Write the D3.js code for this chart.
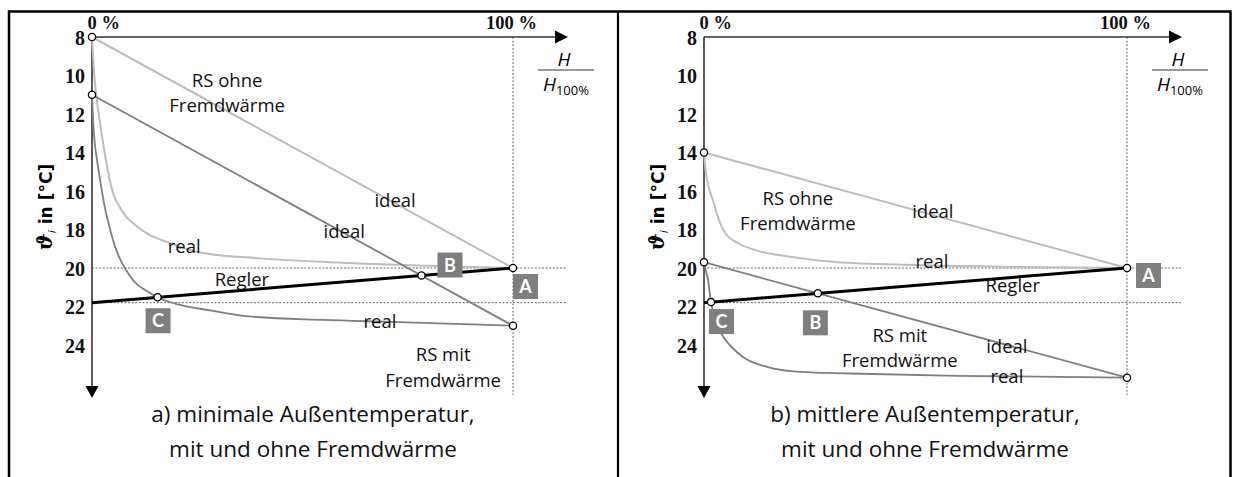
<!DOCTYPE html>
<html><head><meta charset="utf-8">
<script src="https://cdn.jsdelivr.net/npm/d3@7"></script>
<style>body{margin:0;background:#fff}</style>
</head><body>
<svg id="c" width="1234" height="477"></svg>
<script>
// ---------- data ----------
const yTickValues = [8, 10, 12, 14, 16, 18, 20, 22, 24];
const xTickValues = [0, 1];
const xTickLabels = ["0 %", "100 %"];

// panel a) minimale Außentemperatur
const aOhneIdeal = [[0, 8], [1, 20]];
const aOhneReal = [[0, 8], [0.004, 9.6], [0.01, 11.0], [0.019, 12.45], [0.03, 14.0], [0.04, 15.2], [0.05, 16.1],
  [0.065, 16.8], [0.08, 17.3], [0.097, 17.66], [0.13, 18.2], [0.178, 18.65], [0.257, 19.2], [0.4, 19.5],
  [0.565, 19.7], [0.8, 19.88], [1, 20]];
const aMitIdeal = [[0, 11], [1, 23]];
const aMitReal = [[0, 11], [0.003, 12.5], [0.007, 13.6], [0.012, 14.4], [0.019, 15.4], [0.03, 16.8], [0.043, 18.0],
  [0.055, 18.9], [0.067, 19.55], [0.078, 20.0], [0.1, 20.7], [0.13, 21.2], [0.159, 21.56], [0.209, 21.92],
  [0.28, 22.2], [0.368, 22.5], [0.55, 22.7], [0.708, 22.8], [1, 23]];
const aRegler = [[0, 21.8], [1, 20]];

// panel b) mittlere Außentemperatur
const bOhneIdeal = [[0, 14], [1, 20]];
const bOhneReal = [[0, 14], [0.004, 15.0], [0.01, 15.7], [0.021, 16.47], [0.035, 17.5], [0.05, 18.18], [0.08, 18.7],
  [0.12, 19.06], [0.2, 19.4], [0.31, 19.69], [0.5, 19.85], [0.75, 19.95], [1, 20]];
const bMitIdeal = [[0, 19.7], [1, 25.7]];
const bMitReal = [[0, 19.7], [0.004, 20.1], [0.0095, 20.62], [0.0165, 21.77], [0.025, 22.5], [0.043, 23.48],
  [0.065, 24.1], [0.092, 24.62], [0.149, 25.14], [0.227, 25.4], [0.345, 25.48], [0.6, 25.6], [1, 25.7]];
const bRegler = [[0, 21.8], [1, 20]];

const captionsA = ["a) minimale Außentemperatur,", "mit und ohne Fremdwärme"];
const captionsB = ["b) mittlere Außentemperatur,", "mit und ohne Fremdwärme"];

// ---------- drawing ----------
const svg = d3.select("#c");
const LIGHT = "#bdbdbd", MID = "#7f7f7f";
const TXT = "'Open Sans', 'Noto Sans', sans-serif";

// frame
svg.append("rect").attr("x", 9).attr("y", 11.5).attr("width", 1221.5).attr("height", 480)
  .attr("fill", "none").attr("stroke", "#000").attr("stroke-width", 2.5);
svg.append("line").attr("x1", 618).attr("x2", 618).attr("y1", 12).attr("y2", 477)
  .attr("stroke", "#000").attr("stroke-width", 2.2);

function intersect(curve, line) {
  const f = p => p[1] - (line[0][1] + (line[1][1] - line[0][1]) * (p[0] - line[0][0]) / (line[1][0] - line[0][0]));
  for (let i = 0; i < curve.length - 1; i++) {
    const d0 = f(curve[i]), d1 = f(curve[i + 1]);
    if (d0 <= 0 && d1 > 0 || d0 >= 0 && d1 < 0) {
      const t = d0 / (d0 - d1);
      const xx = curve[i][0] + t * (curve[i + 1][0] - curve[i][0]);
      const yy = curve[i][1] + t * (curve[i + 1][1] - curve[i][1]);
      return [xx, yy];
    }
  }
  return null;
}

function drawPanel(o) {
  const g = svg.append("g");
  const x = d3.scaleLinear().domain([0, 1]).range(o.xr);
  const y = d3.scaleLinear().domain([8, 24]).range([37, 345]);
  const x0 = x(0), x1 = x(1), y0 = y(8);

  // dotted helper lines
  [20, o.regler[0][1]].forEach(v => {
    g.append("line").attr("x1", x0).attr("x2", x1 + 54).attr("y1", y(v)).attr("y2", y(v))
      .attr("stroke", "#555").attr("stroke-width", 0.9).attr("stroke-dasharray", "2,1.6");
  });
  g.append("line").attr("x1", x1).attr("x2", x1).attr("y1", y0).attr("y2", 395)
    .attr("stroke", "#555").attr("stroke-width", 0.9).attr("stroke-dasharray", "2,1.6");

  // axes
  g.append("line").attr("x1", x0).attr("x2", x1 + 44).attr("y1", y0).attr("y2", y0)
    .attr("stroke", "#333").attr("stroke-width", 1.6);
  g.append("path").attr("d", `M${x1 + 42},${y0 - 6.5}L${x1 + 55},${y0}L${x1 + 42},${y0 + 6.5}Z`).attr("fill", "#000");
  g.append("line").attr("x1", x0).attr("x2", x0).attr("y1", y0).attr("y2", 388)
    .attr("stroke", "#333").attr("stroke-width", 1.6);
  g.append("path").attr("d", `M${x0 - 6.5},${386}L${x0},${398}L${x0 + 6.5},${386}Z`).attr("fill", "#000");

  const ya = d3.axisLeft(y).tickValues(yTickValues).tickSize(0).tickPadding(7).tickFormat(d3.format("d"));
  const yg = g.append("g").attr("transform", `translate(${x0},0)`).call(ya);
  yg.select(".domain").remove();
  yg.selectAll("text").attr("font-family", "'Liberation Serif', serif").attr("font-weight", "bold")
    .attr("font-size", 20).attr("fill", "#111").attr("dy", "0.36em");

  const xa = d3.axisTop(x).tickValues(xTickValues).tickSize(0).tickPadding(8)
    .tickFormat((d, i) => xTickLabels[i]);
  const xg = g.append("g").attr("transform", `translate(0,${y0})`).call(xa);
  xg.select(".domain").remove();
  xg.selectAll("text").attr("font-family", "'Liberation Serif', serif").attr("font-weight", "bold")
    .attr("font-size", 18.5).attr("fill", "#111")
    .attr("text-anchor", (d, i) => i === 0 ? "start" : "middle")
    .attr("dx", (d, i) => i === 0 ? -5 : -2);

  // fraction H / H100%
  const fx = x1 + 52;
  g.append("text").attr("x", fx - 1).attr("y", 66).attr("text-anchor", "middle")
    .attr("font-family", TXT).attr("font-style", "italic").attr("font-size", 19).text("H");
  g.append("line").attr("x1", fx - 27).attr("x2", fx + 29).attr("y1", 70).attr("y2", 70)
    .attr("stroke", "#333").attr("stroke-width", 1);
  const den = g.append("text").attr("x", fx + 1).attr("y", 91).attr("text-anchor", "middle")
    .attr("font-family", TXT).attr("font-size", 19);
  den.append("tspan").attr("font-style", "italic").text("H");
  den.append("tspan").attr("font-size", 13).attr("dy", 4).text("100%");

  // y label
  const yl = g.append("text").attr("transform", `translate(${x0 - 40},207) rotate(-90)`)
    .attr("text-anchor", "middle").attr("font-family", "'DejaVu Sans', sans-serif").attr("font-weight", "bold")
    .attr("font-size", 17);
  yl.append("tspan").attr("font-family", "'DejaVu Serif', serif").attr("font-style", "italic").attr("font-size", 20).text("ϑ");
  yl.append("tspan").attr("font-style", "italic").attr("font-size", 11).attr("font-weight", "normal").attr("dy", 4).text("i");
  yl.append("tspan").attr("dy", -4).text(" in [°C]");

  // curves
  const lineGen = d3.line().x(d => x(d[0])).y(d => y(d[1]));
  const smooth = d3.line().x(d => x(d[0])).y(d => y(d[1])).curve(d3.curveMonotoneX);
  const draw = (data, gen, col, w) => g.append("path").attr("d", gen(data)).attr("fill", "none")
    .attr("stroke", col).attr("stroke-width", w).attr("stroke-linejoin", "round");
  draw(o.ohneIdeal, lineGen, LIGHT, 2);
  draw(o.ohneReal, smooth, LIGHT, 2);
  draw(o.mitIdeal, lineGen, MID, 1.8);
  draw(o.mitReal, smooth, MID, 1.8);
  draw(o.regler, lineGen, "#000", 3);

  // text annotations
  o.texts.forEach(t => {
    g.append("text").attr("x", x(t[1])).attr("y", y(t[2])).attr("text-anchor", "middle")
      .attr("font-family", TXT).attr("font-size", 18.5).attr("fill", "#111").text(t[0]);
  });

  // points
  const B = intersect(o.mitIdeal, o.regler);
  const C = intersect(o.mitReal, o.regler);
  const A = o.regler[1];
  const pts = [o.ohneIdeal[0], o.mitIdeal[0], A, o.mitIdeal[1], B, C];
  g.selectAll(null).data(pts).enter().append("circle")
    .attr("cx", d => x(d[0])).attr("cy", d => y(d[1])).attr("r", 3.6)
    .attr("fill", "#fff").attr("stroke", "#000").attr("stroke-width", 1.3);

  // letter boxes
  [["A", A, o.boxA], ["B", B, o.boxB], ["C", C, o.boxC]].forEach(b => {
    const bx = x(b[1][0]) + b[2][0], by = y(b[1][1]) + b[2][1];
    g.append("rect").attr("x", bx).attr("y", by).attr("width", 25).attr("height", 25).attr("fill", "#7f7f7f");
    g.append("text").attr("x", bx + 12.5).attr("y", by + 19).attr("text-anchor", "middle")
      .attr("font-family", "'Lato', sans-serif").attr("font-weight", "bold").attr("font-size", 18)
      .attr("fill", "#fff").text(b[0]);
  });

  // captions
  o.captions.forEach((c, i) => {
    g.append("text").attr("x", o.capX).attr("y", 422 + i * 35).attr("text-anchor", "middle")
      .attr("font-family", TXT).attr("font-size", 22.5).attr("fill", "#111").text(c);
  });
}

drawPanel({
  xr: [92, 513], ohneIdeal: aOhneIdeal, ohneReal: aOhneReal, mitIdeal: aMitIdeal, mitReal: aMitReal, regler: aRegler,
  boxA: [0, 6], boxB: [16, -23], boxC: [-12, 11], capX: 313, captions: captionsA,
  texts: [["RS ohne", 0.321, 10.6], ["Fremdwärme", 0.321, 11.9], ["ideal", 0.72, 16.83], ["ideal", 0.599, 18.44],
    ["real", 0.219, 19.22], ["Regler", 0.356, 20.94], ["real", 0.684, 23.12], ["RS mit", 0.834, 24.83],
    ["Fremdwärme", 0.834, 26.18]]
});
drawPanel({
  xr: [704, 1127], ohneIdeal: bOhneIdeal, ohneReal: bOhneReal, mitIdeal: bMitIdeal, mitReal: bMitReal, regler: bRegler,
  boxA: [9, -5], boxB: [-15, 17], boxC: [-2, 7], capX: 925, captions: captionsB,
  texts: [["RS ohne", 0.222, 16.73], ["Fremdwärme", 0.222, 18.03], ["ideal", 0.541, 17.4], ["real", 0.539, 20.0],
    ["Regler", 0.73, 21.25], ["RS mit", 0.463, 23.84], ["Fremdwärme", 0.463, 25.14], ["ideal", 0.716, 24.42],
    ["real", 0.716, 25.97]]
});
</script>
</body></html>
